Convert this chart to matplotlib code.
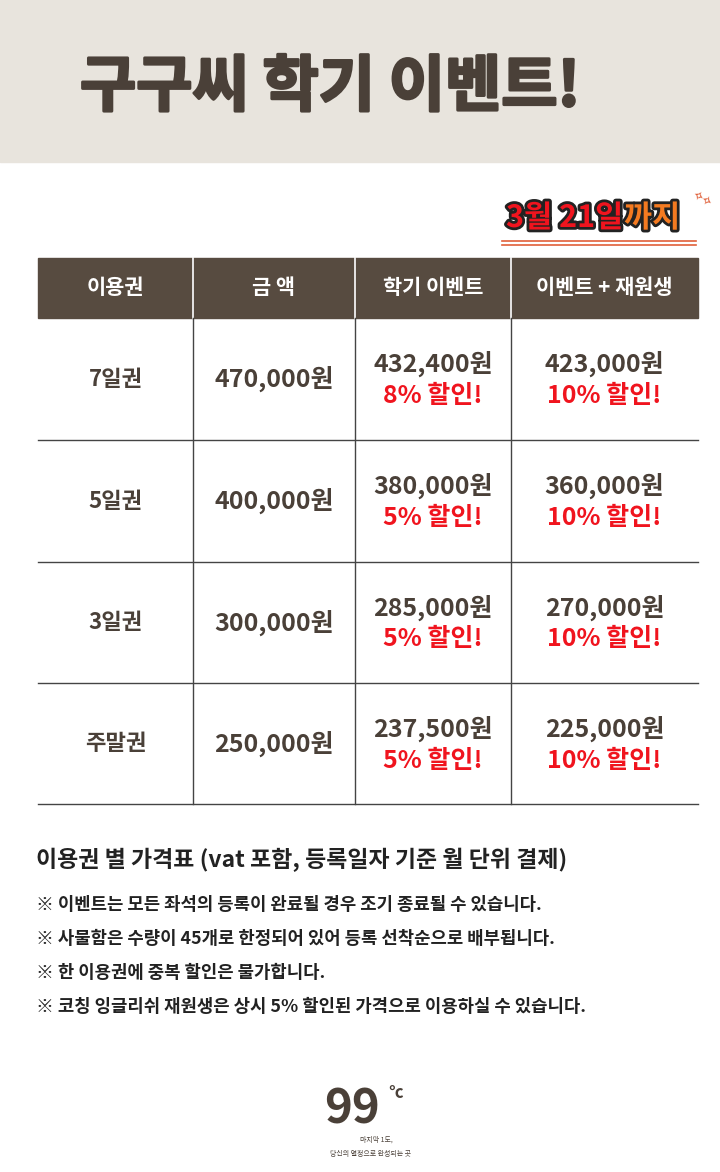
import matplotlib
matplotlib.use('Agg')
import matplotlib.pyplot as plt
import matplotlib.patheffects as pe
from matplotlib.patches import Rectangle

plt.rcParams['font.family'] = ['Noto Sans CJK KR', 'DejaVu Sans']

# data
title = '구구씨 학기 이벤트!'
headers = ['이용권', '금 액', '학기 이벤트', '이벤트 + 재원생']
passes = ['7일권', '5일권', '3일권', '주말권']
prices = ['470,000원', '400,000원', '300,000원', '250,000원']
event_prices = ['432,400원', '380,000원', '285,000원', '237,500원']
event_rates = ['8% 할인!', '5% 할인!', '5% 할인!', '5% 할인!']
member_prices = ['423,000원', '360,000원', '270,000원', '225,000원']
member_rates = ['10% 할인!', '10% 할인!', '10% 할인!', '10% 할인!']
notes_title = '이용권 별 가격표 (vat 포함, 등록일자 기준 월 단위 결제)'
notes = ['※ 이벤트는 모든 좌석의 등록이 완료될 경우 조기 종료될 수 있습니다.',
         '※ 사물함은 수량이 45개로 한정되어 있어 등록 선착순으로 배부됩니다.',
         '※ 한 이용권에 중복 할인은 불가합니다.',
         '※ 코칭 잉글리쉬 재원생은 상시 5% 할인된 가격으로 이용하실 수 있습니다.']

W, H = 720, 1172
dark = '#574b40'
text_c = '#4a4038'
red = '#f0141e'

fig = plt.figure(figsize=(W / 100, H / 100), dpi=100)
ax = fig.add_axes([0, 0, 1, 1])
ax.set_xlim(0, W)
ax.set_ylim(H, 0)
ax.axis('off')

ax.add_patch(Rectangle((0, 0), W, 162, color='#e8e4dd'))
ax.text(80, 88, title, fontsize=44, fontweight='black', color=text_c, va='center',
        path_effects=[pe.withStroke(linewidth=2, foreground=text_c)])

# badge
stroke = [pe.withStroke(linewidth=4, foreground='#222222')]
ax.text(506, 218, '3월 21일', fontsize=22, fontweight='black', color=red, va='center',
        path_effects=stroke)
ax.text(624, 218, '까지', fontsize=22, fontweight='black', color='#f47a20', va='center',
        path_effects=stroke)
ax.plot([502, 696], [241, 241], color='#e0603a', lw=1.2)
ax.plot([502, 696], [245, 245], color='#e0603a', lw=1.2)
ax.text(702, 200, '✧✧', fontsize=9, color='#e0603a', rotation=-30, ha='center', va='center',
        family=['DejaVu Sans'])

cols = [38, 193, 355, 511, 698]
rows = [318, 440, 562, 683, 804]
ax.add_patch(Rectangle((cols[0], 258), cols[-1] - cols[0], 60, color=dark))
for i, h in enumerate(headers):
    ax.text((cols[i] + cols[i + 1]) / 2, 288, h, fontsize=15, color='white', fontweight='bold',
            ha='center', va='center')
for x in cols[1:-1]:
    ax.plot([x, x], [258, 318], color='white', lw=1.2)
    ax.plot([x, x], [318, 804], color='#444444', lw=1)
for y in rows[1:]:
    ax.plot([cols[0], cols[-1]], [y, y], color='#444444', lw=1)

for i in range(len(passes)):
    yc = (rows[i] + rows[i + 1]) / 2
    cx = [(cols[j] + cols[j + 1]) / 2 for j in range(4)]
    ax.text(cx[0], yc, passes[i], fontsize=16, fontweight='bold', color=text_c, ha='center', va='center')
    ax.text(cx[1], yc, prices[i], fontsize=18, fontweight='bold', color=text_c, ha='center', va='center')
    ax.text(cx[2], yc - 15, event_prices[i], fontsize=18, fontweight='bold', color=text_c, ha='center', va='center')
    ax.text(cx[2], yc + 17, event_rates[i], fontsize=18, fontweight='bold', color=red, ha='center', va='center')
    ax.text(cx[3], yc - 15, member_prices[i], fontsize=18, fontweight='bold', color=text_c, ha='center', va='center')
    ax.text(cx[3], yc + 17, member_rates[i], fontsize=18, fontweight='bold', color=red, ha='center', va='center')

ax.text(36, 860, notes_title, fontsize=16.5, fontweight='bold', color='#222222', va='center')
for k, n in enumerate(notes):
    ax.text(36, 905 + k * 34, n, fontsize=12.8, fontweight='bold', color='#222222', va='center')

# logo
ax.text(352, 1110, '99', fontsize=34, fontweight='black', color=text_c, ha='center', va='center')
ax.text(396, 1093, '°c', fontsize=12, fontweight='bold', color=text_c, ha='center', va='center')
ax.text(376, 1140, '마지막 1도,', fontsize=5, color=text_c, ha='center', va='center')
ax.text(370, 1154, '당신의 열정으로 완성되는 곳', fontsize=5, color=text_c, ha='center', va='center')

fig.savefig('out.png', dpi=100)
